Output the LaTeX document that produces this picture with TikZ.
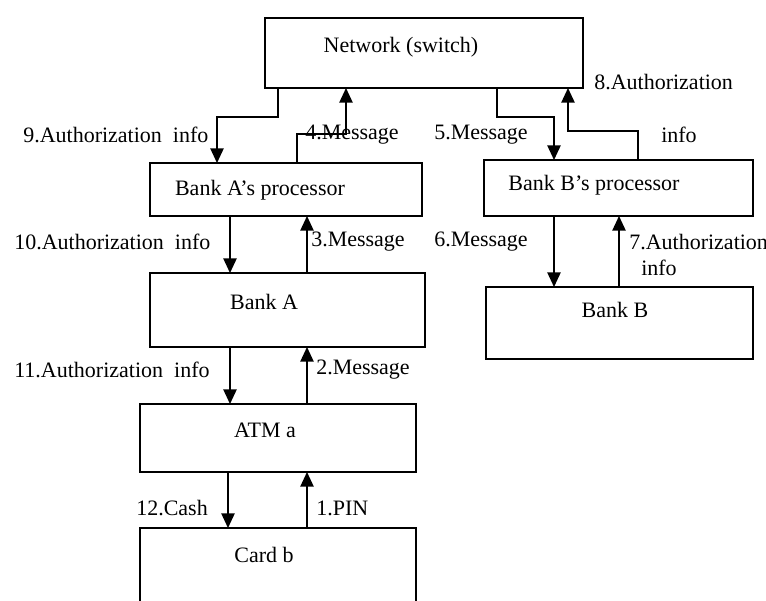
\documentclass[tikz,border=0pt]{standalone}
\usepackage{fontspec}
\setmainfont{Liberation Serif}
\usetikzlibrary{arrows.meta,calc}

\tikzset{
  box/.style={draw, line width=1.1pt, inner sep=0pt, outer sep=0pt},
  txt/.style={inner sep=0.75pt, font=\fontsize{16.5}{19}\selectfont},
  flow/.style={line width=1.1pt, -{Triangle[width=10pt,length=11pt]}}
}

\begin{document}
\begin{tikzpicture}[x=0.75pt,y=0.75pt,yscale=-1,xscale=1]
\useasboundingbox (0,0) rectangle (766,600);

%Shape: Rectangle [net]
\node[box, minimum width=238.5pt, minimum height=52.5pt] (net) at (424,53) {};
%Shape: Rectangle [procA]
\node[box, minimum width=204pt, minimum height=39.75pt] (procA) at (286,189.5) {};
%Shape: Rectangle [procB]
\node[box, minimum width=201.75pt, minimum height=42pt] (procB) at (618.5,188) {};
%Shape: Rectangle [bankA]
\node[box, minimum width=206.25pt, minimum height=55.5pt] (bankA) at (287.5,310) {};
%Shape: Rectangle [bankB]
\node[box, minimum width=200.25pt, minimum height=54pt] (bankB) at (619.5,323) {};
%Shape: Rectangle [atm]
\node[box, minimum width=207pt, minimum height=51pt] (atm) at (278,438) {};
%Shape: Rectangle [card]
\node[box, minimum width=207pt, minimum height=69pt] (card) at (278,574) {};

% Box Text
\node[txt] (netT) at (401,47) {Network (switch)};
\node[txt] (procAT) at (260,190) {Bank A’s processor};
\node[txt] (procBT) at (594,185) {Bank B’s processor};
\node[txt] (bankAT) at (264,302) {Bank A};
\node[txt] (bankBT) at (615,310) {Bank B};
\node[txt] (atmT) at (265,430) {ATM a};
\node[txt] (cardT) at (264,555) {Card b};

%Connectors: network <-> processors
\draw[flow] ($(net.south west)+(13,0)$) |- ++(-61,29) -- ($(procA.north west)+(67,0)$);
\draw[flow] ($(procA.north west)+(147,0)$) |- ++(49,-29) -- ($(net.south west)+(81,0)$);
\draw[flow] ($(net.south west)+(232,0)$) |- ++(57,29) -- ($(procB.north west)+(70,0)$);
\draw[flow] ($(procB.north west)+(154,0)$) |- ++(-70,-29) -- ($(net.south west)+(303,0)$);

%Connectors: A side
\draw[flow] ($(procA.south west)+(80,0)$) -- ($(bankA.north west)+(80,0)$);
\draw[flow] ($(bankA.north west)+(157,0)$) -- ($(procA.south west)+(157,0)$);
\draw[flow] ($(bankA.south west)+(80,0)$) -- ($(atm.north west)+(90,0)$);
\draw[flow] ($(atm.north west)+(167,0)$) -- ($(bankA.south west)+(157,0)$);
\draw[flow] ($(atm.south west)+(88,0)$) -- ($(card.north west)+(88,0)$);
\draw[flow] ($(card.north west)+(167,0)$) -- ($(atm.south west)+(167,0)$);

%Connectors: B side
\draw[flow] ($(procB.south west)+(70,0)$) -- ($(bankB.north west)+(68,0)$);
\draw[flow] ($(bankB.north west)+(133,0)$) -- ($(procB.south west)+(135,0)$);

% Text Node
\node[txt, anchor=west] (l9) at (22,135) {9.Authorization~~info};
\node[txt, anchor=west] (l4) at (304,135) {4.Message};
\node[txt, anchor=west] (l5) at (433,135) {5.Message};
\node[txt, anchor=west] (l8) at (593,82) {8.Authorization};
\node[txt, anchor=west] (l8b) at (660,135) {info};
\node[txt, anchor=west] (l10) at (13,242) {10.Authorization~~info};
\node[txt, anchor=west] (l3) at (310,242) {3.Message};
\node[txt, anchor=west] (l6) at (433,242) {6.Message};
\node[txt, anchor=west] (l7) at (628,242) {7.Authorization};
\node[txt, anchor=west] (l7b) at (640,268) {info};
\node[txt, anchor=west] (l11) at (13,370) {11.Authorization~~info};
\node[txt, anchor=west] (l2) at (315,370) {2.Message};
\node[txt, anchor=west] (l12) at (135,508) {12.Cash};
\node[txt, anchor=west] (l1) at (315,508) {1.PIN};

\end{tikzpicture}
\end{document}
